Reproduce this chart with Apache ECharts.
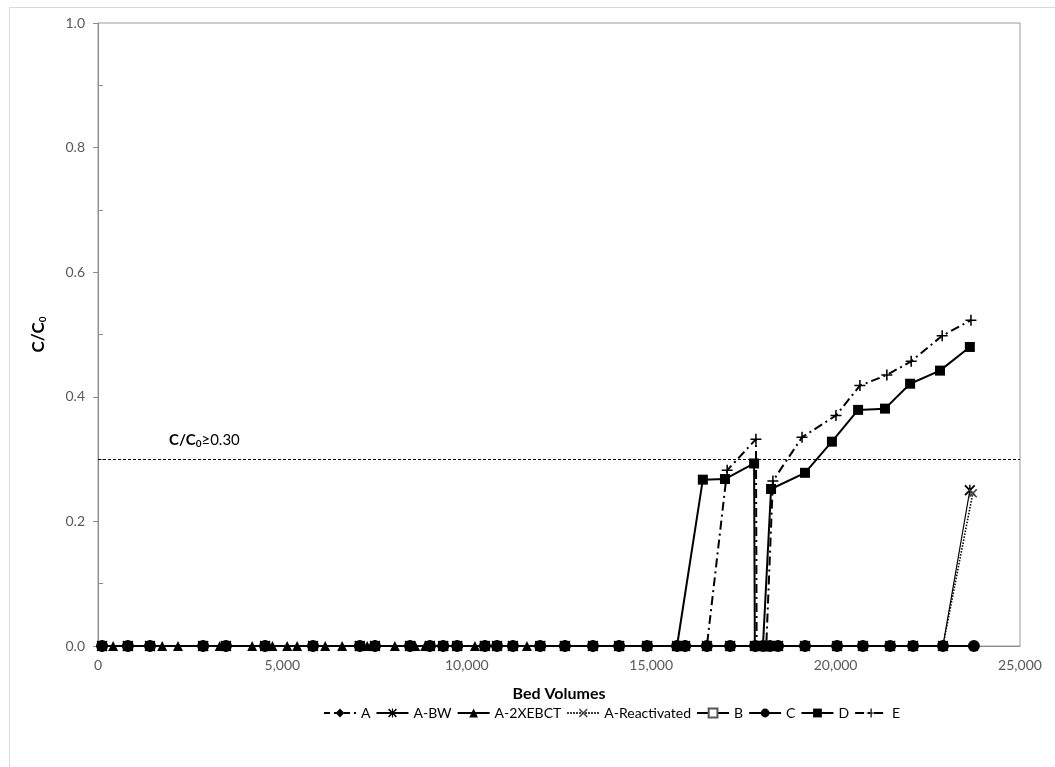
<!DOCTYPE html>
<html>
<head>
<meta charset="utf-8">
<script src="https://cdn.jsdelivr.net/npm/echarts@6/dist/echarts.min.js"></script>
<style>
  html, body { margin: 0; padding: 0; background: #fff; }
  #chart { width: 1055px; height: 767px; }
</style>
</head>
<body>
<div id="chart"></div>
<script>
// Bed volumes and C/C0 values for each column run
const bvA = [110, 810, 1410, 2850, 3470, 4530, 5830, 7100, 7510, 8460, 9000, 9360, 9740, 10490, 10820, 11250, 11990, 12660, 13420, 14130, 14890, 15700, 15920];
const cA  = [0, 0, 0, 0, 0, 0, 0, 0, 0, 0, 0, 0, 0, 0, 0, 0, 0, 0, 0, 0, 0, 0, 0];

const bvABW = [110, 810, 1410, 2850, 3470, 4530, 5830, 7100, 7510, 8460, 9000, 9360, 9740, 10490, 10820, 11250, 11990, 12660, 13420, 14130, 14890, 15700, 15920, 16510, 17140, 17820, 18030, 18220, 18440, 19170, 20040, 20740, 21480, 22100, 22910, 23640];
const cABW  = [0, 0, 0, 0, 0, 0, 0, 0, 0, 0, 0, 0, 0, 0, 0, 0, 0, 0, 0, 0, 0, 0, 0, 0, 0, 0, 0, 0, 0, 0, 0, 0, 0, 0, 0, 0.25];

const bvA2X = [410, 1740, 2170, 3300, 4180, 4730, 5130, 5400, 6160, 6620, 7300, 8050, 8600, 8870, 10220, 11630];
const cA2X  = [0, 0, 0, 0, 0, 0, 0, 0, 0, 0, 0, 0, 0, 0, 0, 0];

const bvARe = [110, 810, 1410, 2850, 3470, 4530, 5830, 7100, 7510, 8460, 9000, 9360, 9740, 10490, 10820, 11250, 11990, 12660, 13420, 14130, 14890, 15700, 15920, 16510, 17140, 17820, 18030, 18220, 18440, 19170, 20040, 20740, 21480, 22100, 22910, 23720];
const cARe  = [0, 0, 0, 0, 0, 0, 0, 0, 0, 0, 0, 0, 0, 0, 0, 0, 0, 0, 0, 0, 0, 0, 0, 0, 0, 0, 0, 0, 0, 0, 0, 0, 0, 0, 0, 0.245];

const bvB = [110, 1410, 2850, 4530, 5830, 7100, 8460, 9740, 11250, 12660, 14130, 15700];
const cB  = [0, 0, 0, 0, 0, 0, 0, 0, 0, 0, 0, 0];

const bvC = [110, 810, 1410, 2850, 3470, 4530, 5830, 7100, 7510, 8460, 9000, 9360, 9740, 10490, 10820, 11250, 11990, 12660, 13420, 14130, 14890, 15700, 15920, 16510, 17140, 17820, 18030, 18220, 18440, 19170, 20040, 20740, 21480, 22100, 22910, 23750];
const cC  = [0, 0, 0, 0, 0, 0, 0, 0, 0, 0, 0, 0, 0, 0, 0, 0, 0, 0, 0, 0, 0, 0, 0, 0, 0, 0, 0, 0, 0, 0, 0, 0, 0, 0, 0, 0];

const bvD = [110, 810, 1410, 2850, 3470, 4530, 5830, 7100, 7510, 8460, 9000, 9360, 9740, 10490, 10820, 11250, 11990, 12660, 13420, 14130, 14890, 15700, 16400, 17000, 17790, 17810, 18030, 18250, 19170, 19900, 20610, 21340, 22020, 22830, 23640];
const cD  = [0, 0, 0, 0, 0, 0, 0, 0, 0, 0, 0, 0, 0, 0, 0, 0, 0, 0, 0, 0, 0, 0, 0.267, 0.268, 0.293, 0, 0, 0.252, 0.278, 0.328, 0.379, 0.381, 0.421, 0.442, 0.48];

const bvE = [110, 810, 1410, 2850, 3470, 4530, 5830, 7100, 7510, 8460, 9000, 9360, 9740, 10490, 10820, 11250, 11990, 12660, 13420, 14130, 14890, 15700, 15920, 16510, 17060, 17840, 17860, 18120, 18300, 19090, 20010, 20660, 21390, 22050, 22890, 23670];
const cE  = [0, 0, 0, 0, 0, 0, 0, 0, 0, 0, 0, 0, 0, 0, 0, 0, 0, 0, 0, 0, 0, 0, 0, 0, 0.282, 0.332, 0, 0, 0.265, 0.335, 0.37, 0.418, 0.435, 0.457, 0.498, 0.523];

// Breakthrough criterion
const threshold = 0.30;

// Axis ranges and tick steps
const xMin = 0, xMax = 25000, xStep = 5000;
const yMin = 0, yMax = 1, yStep = 0.2;
// Minor tick positions on the C/C0 axis
const yMinorTicks = [0.1, 0.3, 0.5, 0.7, 0.9];

const FONT = 'Lato, "Open Sans", "Liberation Sans", sans-serif';

// Marker shapes drawn as filled outlines
const SYM_X = 'path://M0,1.2L1.2,0L5,3.8L8.8,0L10,1.2L6.2,5L10,8.8L8.8,10L5,6.2L1.2,10L0,8.8L3.8,5Z';
const SYM_STAR = 'path://M0,1.2L1.2,0L5,3.8L8.8,0L10,1.2L6.2,5L10,8.8L8.8,10L5,6.2L1.2,10L0,8.8L3.8,5Z M4.35,0H5.65V10H4.35Z';
const SYM_PLUS = 'path://M4.3,0H5.7V4.3H10V5.7H5.7V10H4.3V5.7H0V4.3H4.3Z';

function pairs(xs, ys) { return xs.map((x, i) => [x, ys[i]]); }

function lineSeries(name, xs, ys, opts) {
  return Object.assign({
    name: name,
    type: 'line',
    data: pairs(xs, ys),
    showSymbol: true,
    symbolSize: 10,
    animation: false,
    itemStyle: { color: '#000' },
    lineStyle: { color: '#000', width: 2 },
    emphasis: { disabled: true }
  }, opts);
}

const series = [
  lineSeries('A', bvA, cA, {
    symbol: 'diamond', symbolSize: 11,
    lineStyle: { color: '#000', width: 2, type: [6, 4] },
    markLine: {
      silent: true,
      symbol: 'none',
      lineStyle: { color: '#000', width: 1, type: [3, 2] },
      label: {
        show: true,
        position: 'insideStartTop',
        distance: 4,
        padding: [0, 0, 6, 67],
        formatter: '{b|C/C}{s|0}{n|≥0.30}',
        rich: {
          b: { fontFamily: FONT, fontSize: 15, fontWeight: 'bold', color: '#000' },
          s: { fontFamily: FONT, fontSize: 10, fontWeight: 'bold', color: '#000', padding: [7, 0, 0, 0] },
          n: { fontFamily: FONT, fontSize: 15, color: '#000' }
        }
      },
      data: [{ yAxis: threshold }]
    }
  }),
  lineSeries('A-BW', bvABW, cABW, {
    symbol: SYM_STAR, symbolSize: 11,
    lineStyle: { color: '#000', width: 1.2 }
  }),
  lineSeries('A-2XEBCT', bvA2X, cA2X, {
    symbol: 'triangle', symbolSize: 10,
    lineStyle: { color: '#000', width: 2 }
  }),
  lineSeries('A-Reactivated', bvARe, cARe, {
    symbol: SYM_X, symbolSize: 9,
    itemStyle: { color: '#444' },
    lineStyle: { color: '#000', width: 1.6, type: [1.5, 1.5] }
  }),
  lineSeries('B', bvB, cB, {
    symbol: 'rect', symbolSize: 6,
    itemStyle: { color: '#fff', borderColor: '#555', borderWidth: 1 },
    lineStyle: { color: '#000', width: 1 }
  }),
  lineSeries('C', bvC, cC, {
    symbol: 'circle', symbolSize: 12,
    lineStyle: { color: '#000', width: 2 }
  }),
  lineSeries('D', bvD, cD, {
    symbol: 'rect', symbolSize: 10,
    lineStyle: { color: '#000', width: 2 }
  }),
  lineSeries('E', bvE, cE, {
    symbol: SYM_PLUS, symbolSize: 11,
    lineStyle: { color: '#000', width: 2, type: [9, 4, 2, 4] }
  })
];

const chart = echarts.init(document.getElementById('chart'), null, { renderer: 'canvas' });

chart.setOption({
  backgroundColor: '#fff',
  animation: false,
  textStyle: { fontFamily: FONT },
  graphic: [{
    type: 'rect',
    left: 7, top: 5,
    shape: { width: 1100, height: 800 },
    style: { fill: 'none', stroke: '#d9d9d9', lineWidth: 1 },
    silent: true,
    z: -10
  }],
  grid: {
    left: 98, right: 35, top: 23, bottom: 121,
    show: true,
    borderColor: '#9a9a9a',
    borderWidth: 1,
    backgroundColor: 'transparent'
  },
  legend: {
    bottom: 42,
    left: 318,
    itemWidth: 32,
    itemHeight: 11,
    itemGap: 5,
    textStyle: { fontFamily: FONT, fontSize: 14, color: '#000' },
    data: series.map(s => s.name)
  },
  xAxis: {
    type: 'value',
    min: xMin, max: xMax, interval: xStep,
    name: 'Bed Volumes',
    nameLocation: 'middle',
    nameGap: 40,
    nameTextStyle: { fontFamily: FONT, fontSize: 16, fontWeight: 'bold', color: '#000' },
    axisLine: { show: true, lineStyle: { color: '#8c8c8c', width: 1 } },
    axisTick: { show: false },
    splitLine: { show: false },
    axisLabel: {
      margin: 12,
      fontSize: 14,
      color: '#595959',
      fontFamily: FONT,
      formatter: v => v.toLocaleString('en-US')
    }
  },
  yAxis: [{
    type: 'value',
    min: yMin, max: yMax, interval: yStep,
    name: 'C/C{s|0}',
    nameLocation: 'middle',
    nameGap: 50,
    nameTextStyle: {
      fontFamily: FONT, fontSize: 17, fontWeight: 'bold', color: '#000',
      rich: {
        s: { fontFamily: FONT, fontSize: 10, fontWeight: 'bold', color: '#000', padding: [8, 0, 0, 0] }
      }
    },
    axisLine: { show: true, lineStyle: { color: '#8c8c8c', width: 1 } },
    axisTick: { show: true, length: 5, lineStyle: { color: '#8c8c8c' } },
    splitLine: { show: false },
    axisLabel: {
      margin: 13,
      fontSize: 14,
      color: '#595959',
      fontFamily: FONT,
      formatter: v => v.toFixed(1)
    }
  }, {
    // inward minor ticks sharing the same scale
    type: 'value',
    position: 'left',
    min: yMin, max: yMax, interval: yStep,
    axisLine: { show: false },
    axisLabel: { show: false },
    splitLine: { show: false },
    axisTick: { show: true, inside: true, length: 5, customValues: yMinorTicks, lineStyle: { color: '#8c8c8c' } }
  }],
  series: series
});
</script>
</body>
</html>
